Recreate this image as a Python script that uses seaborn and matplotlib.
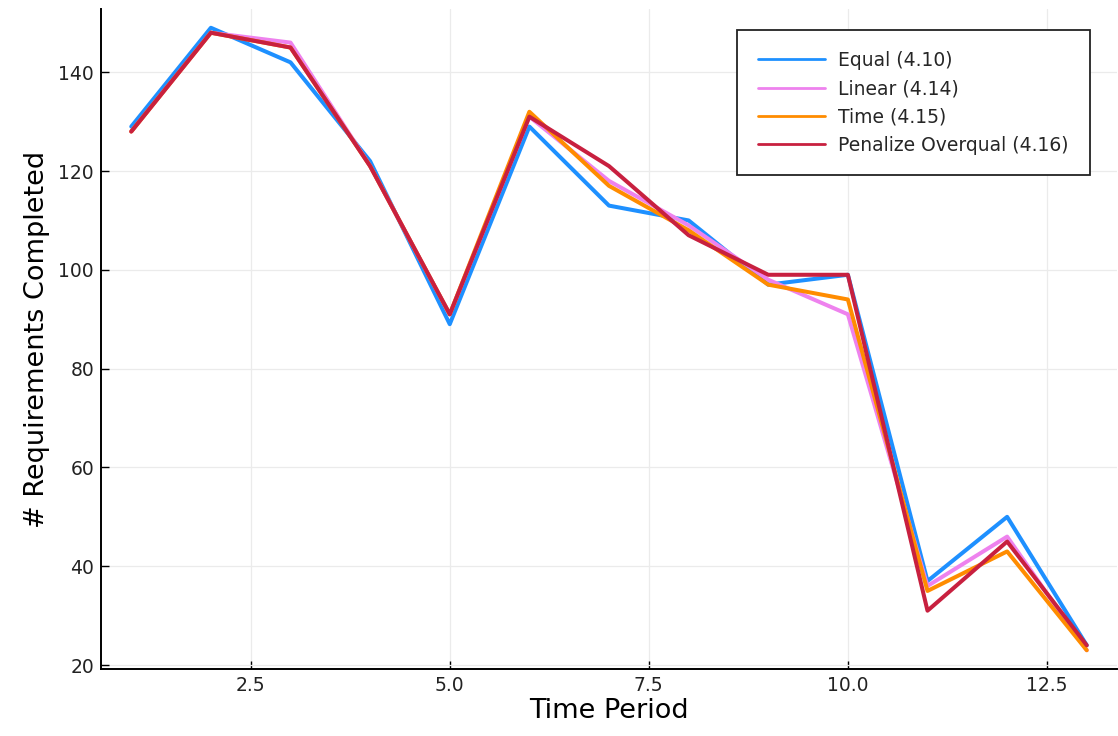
import matplotlib
matplotlib.use("Agg")
import matplotlib.pyplot as plt
import seaborn as sns
import pandas as pd

periods = list(range(1, 14))
equal = [129, 149, 142, 122, 89, 129, 113, 110, 97, 99, 37, 50, 24]
linear = [128, 148, 146, 121, 91, 131, 118, 109, 98, 91, 36, 46, 23]
time_w = [128, 148, 145, 121, 91, 132, 117, 108, 97, 94, 35, 43, 23]
penalize = [128, 148, 145, 121, 91, 131, 121, 107, 99, 99, 31, 45, 24]

labels = ["Equal (4.10)", "Linear (4.14)", "Time (4.15)", "Penalize Overqual (4.16)"]
colors = ["#1E90FF", "#EE82EE", "#FF8C00", "#C8203F"]

frames = []
for name, vals in zip(labels, [equal, linear, time_w, penalize]):
    frames.append(pd.DataFrame({"period": periods, "completed": vals, "method": name}))
df = pd.concat(frames, ignore_index=True)

sns.set_theme(style="white")
plt.rcParams["font.family"] = ["DejaVu Sans"]

fig = plt.figure(figsize=(11.18, 7.36), dpi=100)
ax = fig.add_axes([101 / 1118, 1 - 669 / 736, (1117 - 101) / 1118, (669 - 9) / 736])

sns.lineplot(data=df, x="period", y="completed", hue="method", hue_order=labels,
             palette=colors, linewidth=2.9, ax=ax)

ax.set_xlim(0.62, 13.38)
ax.set_ylim(19.2, 152.8)
ax.set_xticks([2.5, 5.0, 7.5, 10.0, 12.5])
ax.set_xticklabels(["2.5", "5.0", "7.5", "10.0", "12.5"])
ax.set_yticks([20, 40, 60, 80, 100, 120, 140])
ax.grid(True, color="#ebebeb", linewidth=0.9)
ax.set_axisbelow(True)

for side in ["top", "right"]:
    ax.spines[side].set_visible(False)
for side in ["left", "bottom"]:
    ax.spines[side].set_color("black")
    ax.spines[side].set_linewidth(1.4)

ax.tick_params(axis="both", direction="in", length=6, width=1, colors="black",
               labelcolor="#222222", labelsize=13.5, left=True, bottom=True, pad=5)

ax.set_xlabel("Time Period", fontsize=19.5, color="black", labelpad=2)
ax.set_ylabel("# Requirements Completed", fontsize=19.5, color="black", labelpad=6)

leg = ax.legend(loc="upper right", bbox_to_anchor=(0.973, 0.968), borderaxespad=0,
                fontsize=13.5, frameon=True, fancybox=False, framealpha=1,
                edgecolor="#222222", handlelength=3.6, borderpad=1.1,
                labelspacing=0.5, handletextpad=0.7)
leg.get_frame().set_linewidth(1.3)
for line in leg.get_lines():
    line.set_linewidth(2.0)

fig.savefig("out.png", dpi=100)
